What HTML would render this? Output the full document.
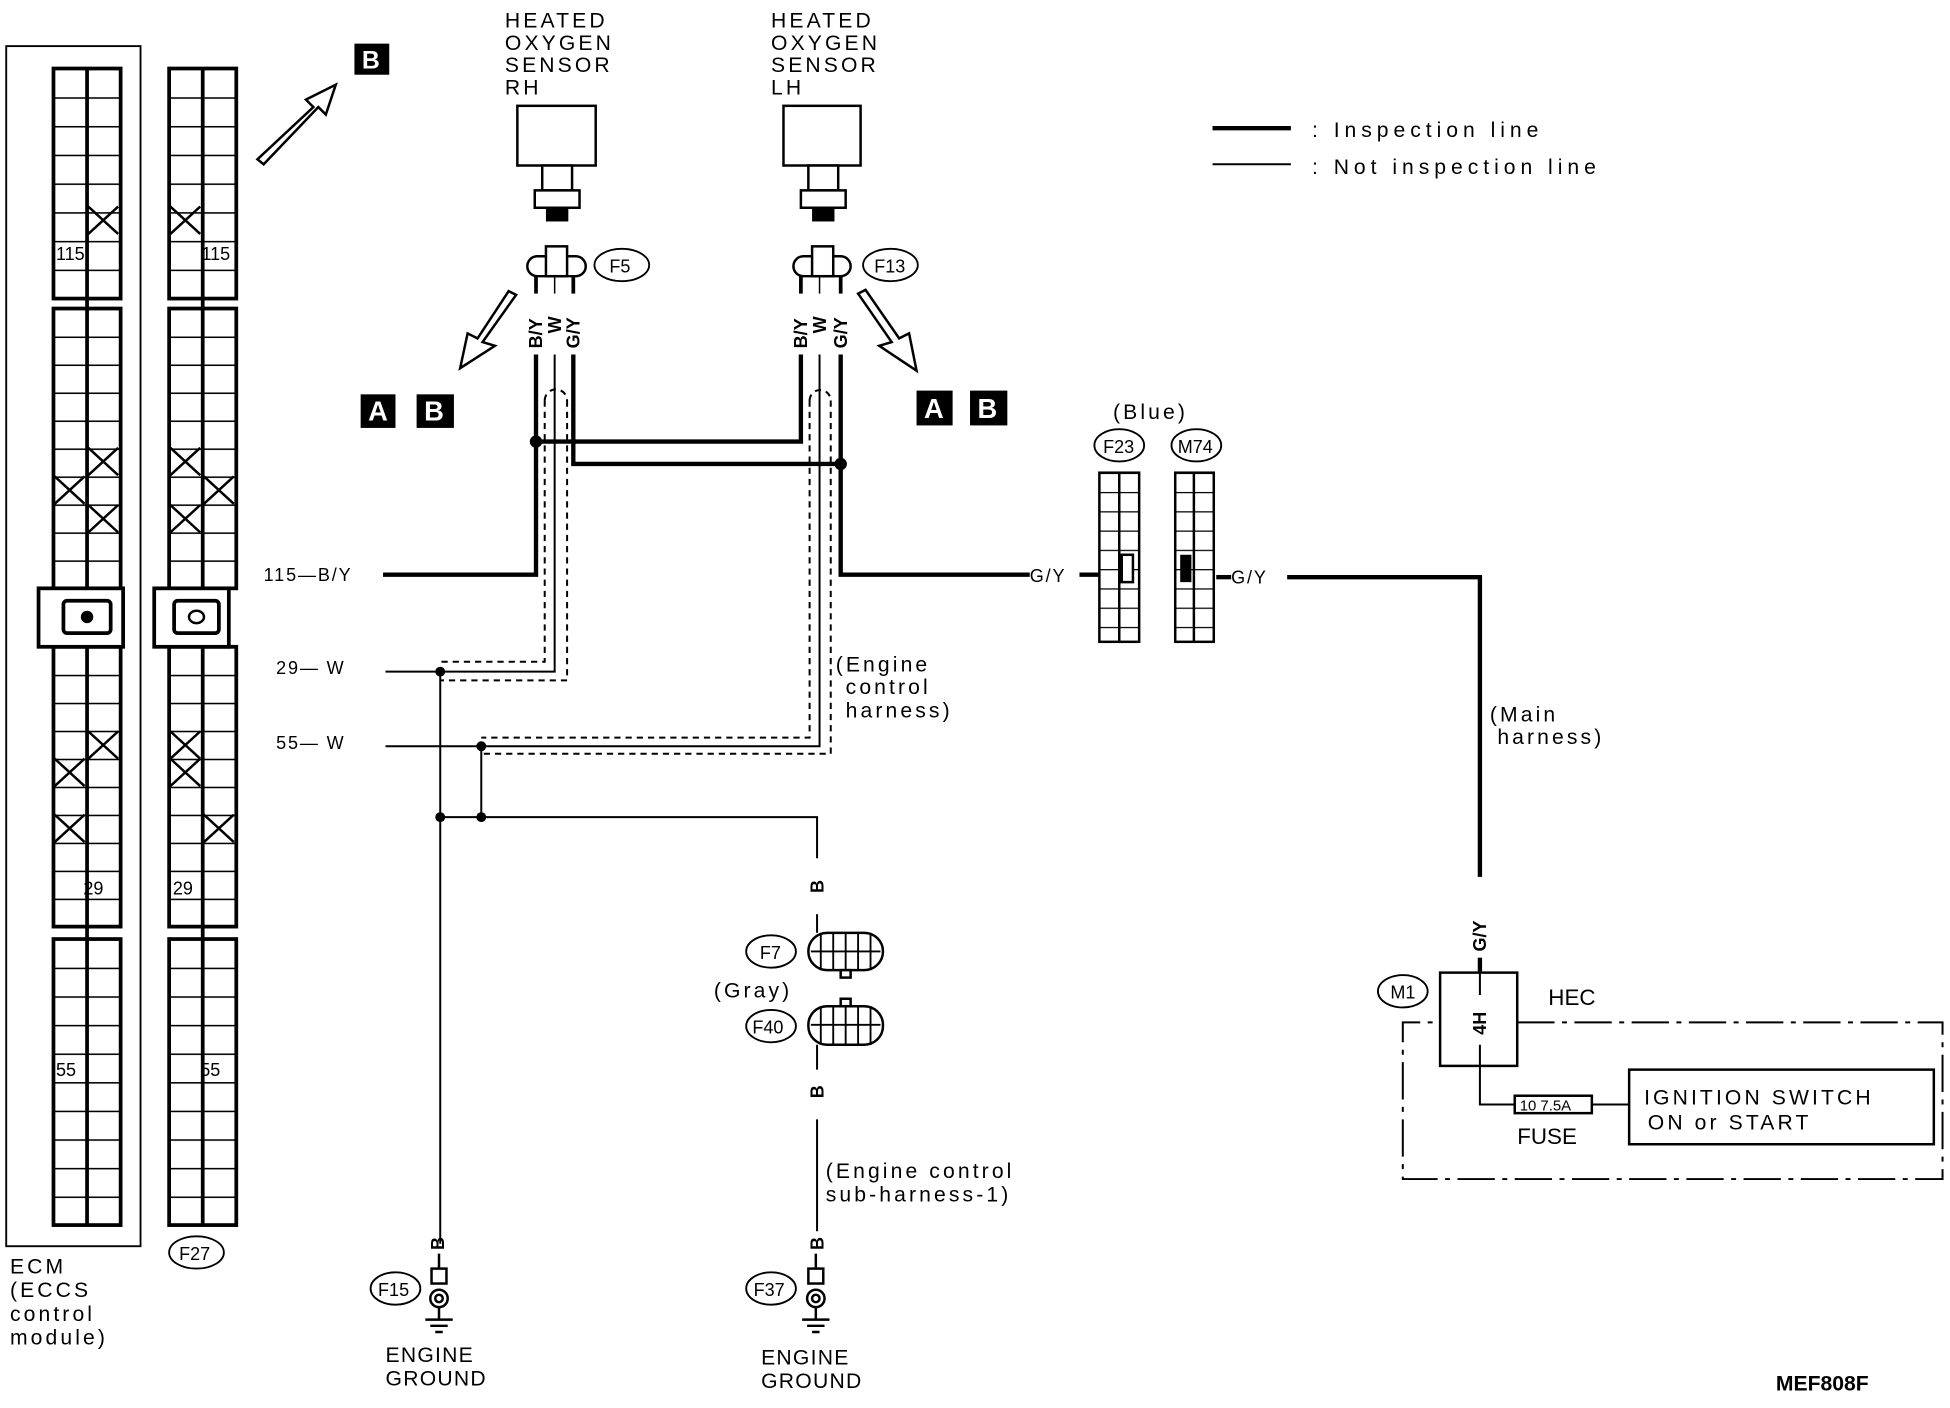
<!DOCTYPE html>
<html><head><meta charset="utf-8"><style>
html,body{margin:0;padding:0;background:#fff}
svg{display:block}
text{font-family:"Liberation Sans",sans-serif;fill:#000}
.m{font-size:17px;letter-spacing:2.5px}
.s{font-size:14.5px}
</style></head><body>
<svg width="1950" height="1408" viewBox="0 0 1568 1132" xmlns="http://www.w3.org/2000/svg">
<defs>
<pattern id="r1" x="0" y="55" width="10" height="23.1" patternUnits="userSpaceOnUse"><line x1="0" y1="0" x2="10" y2="0" stroke="#000" stroke-width="2.5"/></pattern>
<pattern id="r2" x="0" y="248" width="10" height="22.5" patternUnits="userSpaceOnUse"><line x1="0" y1="0" x2="10" y2="0" stroke="#000" stroke-width="2.5"/></pattern>
<pattern id="r3" x="0" y="520" width="10" height="22.5" patternUnits="userSpaceOnUse"><line x1="0" y1="0" x2="10" y2="0" stroke="#000" stroke-width="2.5"/></pattern>
<pattern id="r4" x="0" y="755" width="10" height="23" patternUnits="userSpaceOnUse"><line x1="0" y1="0" x2="10" y2="0" stroke="#000" stroke-width="2.5"/></pattern>
<pattern id="rc" x="0" y="380" width="10" height="15.5" patternUnits="userSpaceOnUse"><line x1="0" y1="0" x2="10" y2="0" stroke="#000" stroke-width="2"/></pattern>
<g id="grid" fill="none" stroke="#000" stroke-width="3">
 <rect x="0" y="55" width="54" height="185" fill="url(#r1)"/>
 <rect x="0" y="248" width="54" height="225" fill="url(#r2)"/>
 <rect x="0" y="520" width="54" height="225" fill="url(#r3)"/>
 <rect x="0" y="755" width="54" height="230" fill="url(#r4)"/>
 <line x1="27" y1="55" x2="27" y2="985"/>
</g>
<g id="x"><path d="M0 0l24 22M24 0l-24 22" stroke="#000" stroke-width="2"/></g>
</defs>

<rect x="5" y="37" width="108" height="965" fill="none" stroke="#000" stroke-width="1.5"/>
<use href="#grid" x="43"/>
<use href="#grid" x="136"/>
<g stroke="#000" stroke-width="3" fill="#fff">
<rect x="31" y="473" width="68" height="47"/><rect x="51" y="483" width="38" height="26" rx="3"/>
<rect x="124" y="473" width="60" height="47"/><rect x="140" y="483" width="36" height="26" rx="3"/>
</g>
<circle cx="70" cy="496" r="5"/><ellipse cx="158" cy="496" rx="6" ry="5" fill="none" stroke="#000" stroke-width="2"/>
<use href="#x" x="71" y="166"/><use href="#x" x="71" y="360"/><use href="#x" x="44" y="383"/><use href="#x" x="71" y="406"/>
<use href="#x" x="71" y="588"/><use href="#x" x="44" y="610"/><use href="#x" x="44" y="655"/>
<use href="#x" x="137" y="166"/><use href="#x" x="137" y="360"/><use href="#x" x="164" y="383"/><use href="#x" x="137" y="406"/>
<use href="#x" x="137" y="588"/><use href="#x" x="137" y="610"/><use href="#x" x="164" y="655"/>
<g class="s"><text x="45" y="209">115</text><text x="162" y="209">115</text><text x="67" y="719">29</text><text x="139" y="719">29</text><text x="45" y="865">55</text><text x="161" y="865">55</text></g>
<g class="m"><text x="8" y="1024">ECM</text><text x="8" y="1043">(ECCS</text><text x="8" y="1062">control</text><text x="8" y="1081">module)</text></g>
<ellipse cx="158" cy="1007" rx="22" ry="13" fill="none" stroke="#000" stroke-width="1.5"/><text x="144" y="1013" class="s">F27</text>

<path d="M207 128L252 86L246 80L270 68L262 92L256 86L212 132Z" fill="#fff" stroke="#000" stroke-width="2"/>
<rect x="285" y="35" width="28" height="25" fill="#000"/><text x="291" y="55" style="font-size:20px;font-weight:bold;fill:#fff">B</text>

<g class="m"><text x="406" y="22">HEATED</text><text x="406" y="40">OXYGEN</text><text x="406" y="58">SENSOR</text><text x="406" y="76">RH</text>
<text x="620" y="22">HEATED</text><text x="620" y="40">OXYGEN</text><text x="620" y="58">SENSOR</text><text x="620" y="76">LH</text></g>
<g stroke="#000" stroke-width="2" fill="#fff">
<rect x="416" y="85" width="63" height="48"/><rect x="436" y="133" width="24" height="20"/><path d="M430 153h36v14h-36z"/><rect x="440" y="167" width="16" height="10" fill="#000"/>
<rect x="630" y="85" width="62" height="48"/><rect x="650" y="133" width="24" height="20"/><path d="M644 153h36v14h-36z"/><rect x="654" y="167" width="16" height="10" fill="#000"/>
<rect x="424" y="206" width="47" height="16" rx="8"/><rect x="439" y="198" width="17" height="24"/>
<rect x="638" y="206" width="46" height="16" rx="8"/><rect x="653" y="198" width="17" height="24"/>
</g>
<g stroke="#000" stroke-width="3"><line x1="431" y1="222" x2="431" y2="236"/><line x1="461" y1="222" x2="461" y2="236"/><line x1="644" y1="222" x2="644" y2="236"/><line x1="676" y1="222" x2="676" y2="236"/></g>
<g stroke="#000" stroke-width="1.2"><line x1="446" y1="222" x2="446" y2="236"/><line x1="659" y1="222" x2="659" y2="236"/></g>
<ellipse cx="500" cy="213" rx="22" ry="13" fill="none" stroke="#000" stroke-width="1.5"/><text x="490" y="219" class="s">F5</text>
<ellipse cx="716" cy="213" rx="22" ry="13" fill="none" stroke="#000" stroke-width="1.5"/><text x="703" y="219" class="s">F13</text>
<g class="s" font-weight="bold">
<text transform="translate(436,280) rotate(-90)">B/Y</text><text transform="translate(451,268) rotate(-90)">W</text><text transform="translate(466,280) rotate(-90)">G/Y</text>
<text transform="translate(649,280) rotate(-90)">B/Y</text><text transform="translate(664,268) rotate(-90)">W</text><text transform="translate(681,280) rotate(-90)">G/Y</text>
</g>
<path d="M415 237L388 275L398 278L370 296L376 268L384 272L409 234Z" fill="#fff" stroke="#000" stroke-width="2"/>
<path d="M690 236L717 275L707 278L737 298L731 268L723 272L696 233Z" fill="#fff" stroke="#000" stroke-width="2"/>
<g style="font-size:22px;font-weight:bold">
<rect x="290" y="317" width="28" height="27"/><text x="296" y="338" style="fill:#fff">A</text>
<rect x="335" y="317" width="30" height="27"/><text x="341" y="338" style="fill:#fff">B</text>
<rect x="737" y="314" width="29" height="28"/><text x="743" y="336" style="fill:#fff">A</text>
<rect x="780" y="314" width="30" height="28"/><text x="786" y="336" style="fill:#fff">B</text>
</g>

<g fill="none" stroke="#000" stroke-width="3.5">
<path d="M431 285V462H308"/>
<path d="M461 285V373H676"/>
<path d="M644 285V355H431"/>
<path d="M676 285V462H828"/>
<path d="M868 462H884"/>
<path d="M978 464H990"/>
<path d="M1035 464H1190V705"/>
<path d="M1190 770V782"/>
</g>
<g fill="none" stroke="#000" stroke-width="1.6">
<path d="M446 285V540H310"/>
<path d="M659 285V600H310"/>
<path d="M354 540V1000"/>
<path d="M387 600V657"/>
<path d="M354 657H657V690"/>
<path d="M657 735V750"/><path d="M657 840V860"/><path d="M657 900V990"/>
<path d="M1190 857V888H1218"/><path d="M1280 888H1310"/>
</g>
<g fill="none" stroke="#000" stroke-width="1.6" stroke-dasharray="5 4">
<path d="M438 322V532H354"/><path d="M456 322V547H354"/><path d="M438 322a9 9 0 0 1 18 0"/>
<path d="M651 322V593H387"/><path d="M668 322V606H387"/><path d="M651 322a8.5 8.5 0 0 1 17 0"/>
</g>
<g><circle cx="431" cy="355" r="5"/><circle cx="676" cy="373" r="5"/><circle cx="354" cy="540" r="4"/><circle cx="387" cy="600" r="4"/><circle cx="354" cy="657" r="4"/><circle cx="387" cy="657" r="4"/></g>
<g class="s" style="letter-spacing:1.5px"><text x="212" y="467">115—B/Y</text><text x="222" y="542">29—  W</text><text x="222" y="602">55—  W</text><text x="828" y="468">G/Y</text><text x="990" y="469">G/Y</text></g>
<g class="m"><text x="672" y="540">(Engine</text><text x="680" y="558">control</text><text x="680" y="577">harness)</text>
<text x="1198" y="580">(Main</text><text x="1204" y="598">harness)</text>
<text x="664" y="947">(Engine control</text><text x="664" y="966">sub-harness-1)</text>
<text x="895" y="337">(Blue)</text><text x="574" y="802">(Gray)</text>
<text x="1055" y="110" style="letter-spacing:4px">:  Inspection line</text><text x="1055" y="140" style="letter-spacing:4px">:  Not inspection line</text></g>
<line x1="975" y1="103" x2="1038" y2="103" stroke="#000" stroke-width="3.5"/>
<line x1="975" y1="132" x2="1038" y2="132" stroke="#000" stroke-width="1.6"/>

<rect x="884" y="380" width="32" height="136" fill="url(#rc)" stroke="#000" stroke-width="2"/><line x1="900" y1="380" x2="900" y2="516" stroke="#000" stroke-width="2"/>
<rect x="945" y="380" width="31" height="136" fill="url(#rc)" stroke="#000" stroke-width="2"/><line x1="960" y1="380" x2="960" y2="516" stroke="#000" stroke-width="2"/>
<rect x="902" y="446" width="9" height="22" fill="#fff" stroke="#000" stroke-width="2"/><rect x="949" y="446" width="9" height="22" fill="#000"/>
<ellipse cx="900" cy="358" rx="20" ry="13" fill="none" stroke="#000" stroke-width="1.5"/><text x="887" y="364" class="s">F23</text>
<ellipse cx="962" cy="358" rx="20" ry="13" fill="none" stroke="#000" stroke-width="1.5"/><text x="947" y="364" class="s">M74</text>

<g class="s" font-weight="bold"><text transform="translate(662,718) rotate(-90)">B</text><text transform="translate(662,883) rotate(-90)">B</text>
<text transform="translate(357,1005) rotate(-90)">B</text><text transform="translate(662,1005) rotate(-90)">B</text>
<text transform="translate(1195,765) rotate(-90)">G/Y</text></g>
<g fill="#fff" stroke="#000" stroke-width="2">
<rect x="650" y="750" width="60" height="30" rx="15"/><rect x="650" y="809" width="60" height="31" rx="15"/>
<rect x="676" y="780" width="8" height="6"/><rect x="676" y="803" width="8" height="6"/>
</g>
<g stroke="#000" stroke-width="1.5"><path d="M660 750v30M670 750v30M680 750v30M690 750v30M700 750v30M652 765h56M660 809v31M670 809v31M680 809v31M690 809v31M700 809v31M652 824h56"/></g>
<ellipse cx="620" cy="765" rx="20" ry="13" fill="none" stroke="#000" stroke-width="1.5"/><text x="611" y="771" class="s">F7</text>
<ellipse cx="620" cy="825" rx="20" ry="13" fill="none" stroke="#000" stroke-width="1.5"/><text x="605" y="831" class="s">F40</text>

<g fill="none" stroke="#000" stroke-width="2">
<rect x="347" y="1020" width="12" height="12"/><circle cx="353" cy="1044" r="7"/><circle cx="353" cy="1044" r="3"/><path d="M353 1051v10M342 1061h22M346 1066h14M350 1071h6"/>
<rect x="650" y="1020" width="12" height="12"/><circle cx="656" cy="1044" r="7"/><circle cx="656" cy="1044" r="3"/><path d="M656 1051v10M645 1061h22M649 1066h14M653 1071h6"/>
<path d="M353 1008v12M656 1008v12"/>
</g>
<ellipse cx="318" cy="1036" rx="20" ry="13" fill="none" stroke="#000" stroke-width="1.5"/><text x="304" y="1042" class="s">F15</text>
<ellipse cx="620" cy="1036" rx="20" ry="13" fill="none" stroke="#000" stroke-width="1.5"/><text x="606" y="1042" class="s">F37</text>
<g class="m" style="letter-spacing:1px"><text x="310" y="1095">ENGINE</text><text x="310" y="1114">GROUND</text><text x="612" y="1097">ENGINE</text><text x="612" y="1116">GROUND</text></g>

<path d="M1220 822H1562V948H1128V822H1158" fill="none" stroke="#000" stroke-width="1.6" stroke-dasharray="30 6 4 6"/>
<rect x="1158" y="782" width="62" height="75" fill="#fff" stroke="#000" stroke-width="2"/>
<text transform="translate(1195,832) rotate(-90)" class="s" font-weight="bold">4H</text>
<line x1="1190" y1="782" x2="1190" y2="800" stroke="#000" stroke-width="1.6"/><line x1="1190" y1="840" x2="1190" y2="857" stroke="#000" stroke-width="1.6"/>
<ellipse cx="1128" cy="797" rx="20" ry="13" fill="none" stroke="#000" stroke-width="1.5"/><text x="1118" y="803" class="s">M1</text>
<text x="1245" y="808" style="font-size:18px">HEC</text>
<rect x="1218" y="881" width="62" height="14" fill="#fff" stroke="#000" stroke-width="2"/><text x="1222" y="893" style="font-size:12px">10 7.5A</text>
<text x="1220" y="920" style="font-size:18px">FUSE</text>
<rect x="1310" y="860" width="245" height="60" fill="#fff" stroke="#000" stroke-width="2"/>
<text x="1322" y="888" class="m">IGNITION SWITCH</text><text x="1325" y="908" class="m">ON or START</text>
<text x="1428" y="1118" style="font-size:17px;font-weight:bold">MEF808F</text>
</svg>
</body></html>
